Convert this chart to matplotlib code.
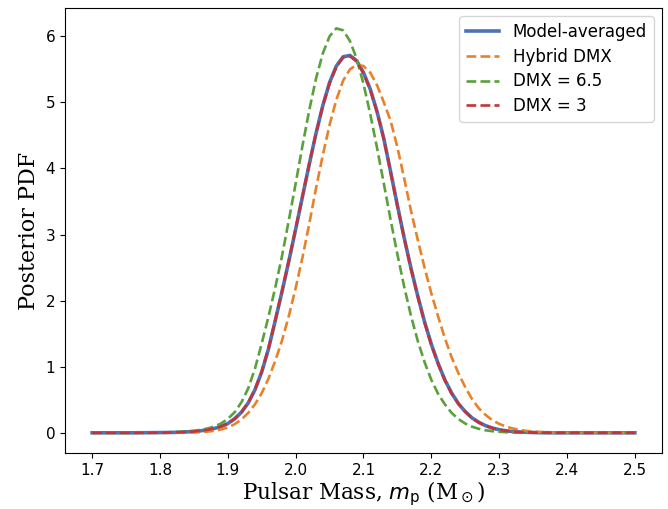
import numpy as np
import matplotlib
matplotlib.use("Agg")
import matplotlib.pyplot as plt

# x grid 1.70 .. 2.50 step 0.01
mass = np.round(np.arange(1.70, 2.5001, 0.01), 2)

model_avg = [0, 0, 0, 0, 0, 0, 0, 0.001, 0.001, 0.002,
             0.003, 0.004, 0.006, 0.009, 0.014,
             0.02, 0.03, 0.045, 0.065, 0.095, 0.14, 0.21, 0.31, 0.45, 0.65,
             0.92, 1.27, 1.70, 2.14, 2.60, 3.08, 3.57, 4.06, 4.53, 4.95,
             5.30, 5.55, 5.69, 5.71, 5.63, 5.45, 5.20, 4.86, 4.45, 3.95,
             3.44, 2.95, 2.49, 2.07, 1.68, 1.34, 1.05, 0.80, 0.60, 0.44,
             0.32, 0.225, 0.158, 0.108, 0.072, 0.047, 0.030, 0.019, 0.012, 0.007,
             0.004, 0.002, 0.001,
             0, 0, 0, 0, 0, 0, 0, 0, 0, 0, 0, 0, 0]

hybrid_dmx = [0, 0, 0, 0, 0, 0, 0, 0, 0, 0,
              0, 0.001, 0.002, 0.003, 0.004,
              0.006, 0.01, 0.018, 0.03, 0.05, 0.08, 0.13, 0.20, 0.30, 0.43,
              0.60, 0.82, 1.09, 1.40, 1.77, 2.19, 2.65, 3.16, 3.70, 4.20,
              4.66, 5.04, 5.33, 5.50, 5.57, 5.55, 5.45, 5.26, 5.00, 4.72,
              4.32, 3.85, 3.36, 2.92, 2.50, 2.11, 1.76, 1.43, 1.14, 0.90,
              0.69, 0.51, 0.37, 0.27, 0.19, 0.135, 0.095, 0.065, 0.044, 0.029,
              0.019, 0.012, 0.007, 0.004, 0.002, 0.001,
              0, 0, 0, 0, 0, 0, 0, 0, 0, 0]

dmx_65 = [0, 0, 0, 0, 0, 0, 0.001, 0.001, 0.002, 0.003,
          0.004, 0.006, 0.009, 0.013, 0.02,
          0.03, 0.045, 0.065, 0.095, 0.14, 0.21, 0.31, 0.46, 0.67, 0.97,
          1.35, 1.76, 2.20, 2.68, 3.22, 3.77, 4.34, 4.88, 5.36, 5.74,
          6.00, 6.12, 6.09, 5.93, 5.66, 5.28, 4.82, 4.31, 3.77, 3.22,
          2.70, 2.21, 1.77, 1.39, 1.07, 0.80, 0.59, 0.43, 0.30, 0.207,
          0.14, 0.092, 0.06, 0.038, 0.024, 0.015, 0.009, 0.005, 0.003, 0.002,
          0.001,
          0, 0, 0, 0, 0, 0, 0, 0, 0, 0, 0, 0, 0, 0, 0]

dmx_3 = [0, 0, 0, 0, 0, 0, 0, 0, 0.001, 0.002,
         0.003, 0.004, 0.006, 0.009, 0.014,
         0.02, 0.03, 0.045, 0.066, 0.096, 0.142, 0.212, 0.312, 0.455, 0.655,
         0.93, 1.28, 1.71, 2.15, 2.61, 3.09, 3.58, 4.07, 4.53, 4.95,
         5.29, 5.54, 5.68, 5.70, 5.62, 5.44, 5.19, 4.85, 4.44, 3.94,
         3.43, 2.94, 2.48, 2.06, 1.67, 1.33, 1.04, 0.79, 0.59, 0.44,
         0.32, 0.222, 0.156, 0.106, 0.071, 0.046, 0.029, 0.018, 0.011, 0.007,
         0.004, 0.002, 0.001,
         0, 0, 0, 0, 0, 0, 0, 0, 0, 0, 0, 0, 0]

series = [
    ("Model-averaged", model_avg, "#4a74b4", "-", 2.6),
    ("Hybrid DMX", hybrid_dmx, "#e8822a", "--", 1.9),
    ("DMX = 6.5", dmx_65, "#5aa03c", "--", 1.9),
    ("DMX = 3", dmx_3, "#c4323a", "--", 1.9),
]

fig = plt.figure(figsize=(6.68, 5.09), dpi=100)
ax = fig.add_axes([0.0973, 0.110, 0.8937, 0.874])

for label, vals, color, ls, lw in series:
    ax.plot(mass, vals, ls, color=color, lw=lw, label=label)

ax.set_xticks(np.round(np.arange(1.7, 2.501, 0.1), 1))
ax.set_xticklabels(["1.7", "1.8", "1.9", "2.0", "2.1", "2.2", "2.3", "2.4", "2.5"])
ax.tick_params(labelsize=11)
ax.set_xlabel(r"Pulsar Mass, $m_{\rm p}$ (M$_\odot$)", family="DejaVu Serif",
              fontsize=15.5, labelpad=1)
ax.set_ylabel("Posterior PDF", family="DejaVu Serif", fontsize=16)
ax.legend(loc="upper right", fontsize=12, labelspacing=0.4)

fig.savefig("out.png", dpi=100)
